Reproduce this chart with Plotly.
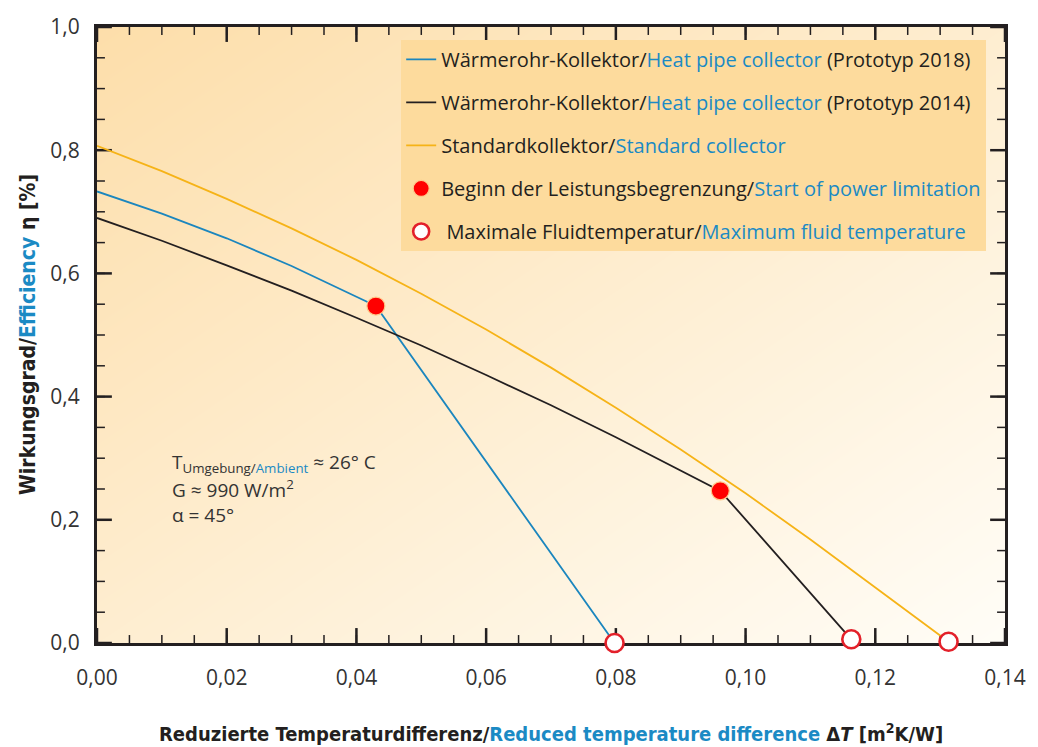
import plotly.graph_objects as go

# ---------------- data ----------------
blue_x = [0.000, 0.010, 0.020, 0.030, 0.040, 0.0430, 0.0798]
blue_y = [0.733, 0.697, 0.657, 0.612, 0.562, 0.547, 0.000]

black_x = [0.000, 0.010, 0.020, 0.030, 0.040, 0.050, 0.060, 0.070, 0.080, 0.090, 0.0961, 0.1163]
black_y = [0.690, 0.653, 0.613, 0.572, 0.528, 0.483, 0.435, 0.386, 0.334, 0.280, 0.247, 0.006]

std_x = [0.000, 0.010, 0.020, 0.030, 0.040, 0.050, 0.060, 0.070, 0.080, 0.090, 0.100, 0.110, 0.120, 0.1313]
std_y = [0.807, 0.766, 0.721, 0.673, 0.622, 0.567, 0.509, 0.447, 0.382, 0.314, 0.243, 0.168, 0.090, 0.002]

limit_x = [0.0430, 0.0961]
limit_y = [0.547, 0.247]

maxfluid_x = [0.0798, 0.1163, 0.1313]
maxfluid_y = [0.000, 0.006, 0.002]

names = [
    'Wärmerohr-Kollektor/<span style="color:#1B8AC4">Heat pipe collector</span> (Prototyp 2018)',
    'Wärmerohr-Kollektor/<span style="color:#1B8AC4">Heat pipe collector</span> (Prototyp 2014)',
    'Standardkollektor/<span style="color:#1B8AC4">Standard collector</span>',
    'Beginn der Leistungsbegrenzung/<span style="color:#1B8AC4">Start of power limitation</span>',
    ' Maximale Fluidtemperatur/<span style="color:#1B8AC4">Maximum fluid temperature</span>',
]

X_RANGE = [0, 0.14]
Y_RANGE = [0, 1]
X_MAJOR, X_MINOR = 0.02, 0.005
Y_MAJOR, Y_MINOR = 0.2, 0.05

# ---------------- style ----------------
BLUE = "#1B86BE"
BLACK = "#231F20"
ORANGE = "#F6B317"
TXTBLUE = "#1B8AC4"
FONT = "Open Sans, Lato, sans-serif"
NARROW = "Liberation Sans Narrow, DejaVu Sans Condensed, Arial Narrow, sans-serif"
W, H = 1038, 747
M = dict(l=97, r=25, t=24, b=104)
PW = W - M["l"] - M["r"]
PH = H - M["t"] - M["b"]
XU = (X_RANGE[1] - X_RANGE[0]) / PW   # data units per pixel, x
YU = (Y_RANGE[1] - Y_RANGE[0]) / PH   # data units per pixel, y


def steps(lo, hi, step):
    n = int(round((hi - lo) / step))
    return [round(lo + i * step, 6) for i in range(n + 1)]


fig = go.Figure()

# diagonal background gradient (top-left orange -> bottom-right near white)
fig.add_trace(go.Heatmap(x=X_RANGE, y=Y_RANGE, z=[[0.5, 1.0], [0.0, 0.5]],
                         zmin=0, zmax=1, zsmooth="best", showscale=False,
                         colorscale=[[0, "#FDDEAA"], [1, "#FFFDF7"]],
                         hoverinfo="skip", showlegend=False))

# inside tick marks on all four sides, drawn as line segments from the tick steps
for step, ln, lw in ((X_MINOR, 8, 1.5), (X_MAJOR, 15, 2.5)):
    tx, ty = [], []
    for v in steps(X_RANGE[0], X_RANGE[1], step):
        tx += [v, v, None, v, v, None]
        ty += [Y_RANGE[0], Y_RANGE[0] + ln * YU, None,
               Y_RANGE[1], Y_RANGE[1] - ln * YU, None]
    fig.add_trace(go.Scatter(x=tx, y=ty, mode="lines", showlegend=False,
                             hoverinfo="skip", cliponaxis=False,
                             line=dict(color=BLACK, width=lw)))
for step, ln, lw in ((Y_MINOR, 8, 1.5), (Y_MAJOR, 15, 2.5)):
    tx, ty = [], []
    for v in steps(Y_RANGE[0], Y_RANGE[1], step):
        tx += [X_RANGE[0], X_RANGE[0] + ln * XU, None,
               X_RANGE[1], X_RANGE[1] - ln * XU, None]
        ty += [v, v, None, v, v, None]
    fig.add_trace(go.Scatter(x=tx, y=ty, mode="lines", showlegend=False,
                             hoverinfo="skip", cliponaxis=False,
                             line=dict(color=BLACK, width=lw)))

fig.add_trace(go.Scatter(x=blue_x, y=blue_y, mode="lines", name=names[0],
                         line=dict(color=BLUE, width=1.8), legendgroup="a"))
fig.add_trace(go.Scatter(x=black_x, y=black_y, mode="lines", name=names[1],
                         line=dict(color=BLACK, width=1.8), legendgroup="b"))
fig.add_trace(go.Scatter(x=std_x, y=std_y, mode="lines", name=names[2],
                         line=dict(color=ORANGE, width=1.8), legendgroup="c"))
fig.add_trace(go.Scatter(x=limit_x, y=limit_y, mode="markers", name=names[3],
                         marker=dict(color="#FF0000", size=18,
                                     line=dict(color="#FFC98A", width=1.2)),
                         legendgroup="d", cliponaxis=False))
fig.add_trace(go.Scatter(x=maxfluid_x, y=maxfluid_y, mode="markers", name=names[4],
                         marker=dict(color="#FFFFFF", size=18,
                                     line=dict(color="#E3202A", width=2.6)),
                         legendgroup="e", cliponaxis=False))

main_axis = dict(
    ticks="", showline=True, linewidth=3, linecolor=BLACK, mirror=True,
    showgrid=False, zeroline=False, layer="below traces",
    tickfont=dict(family=FONT, size=21, color="#333333"),
)
fig.update_layout(
    xaxis=dict(range=X_RANGE, tick0=0, dtick=X_MAJOR, tickformat=".2f",
               ticklabelstandoff=14, **main_axis),
    yaxis=dict(range=Y_RANGE, tick0=0, dtick=Y_MAJOR, tickformat=".1f",
               ticklabelstandoff=10, **main_axis),
)

annotations = [
    dict(text='<b>Wirkungsgrad/<span style="color:%s">Efficiency</span> η [%%]</b>' % TXTBLUE,
         xref="paper", yref="paper", x=0, y=0.5, xshift=-69, textangle=-90,
         xanchor="center", yanchor="middle", showarrow=False,
         font=dict(family=NARROW, size=21, color=BLACK)),
    dict(text='<b>Reduzierte Temperaturdifferenz/<span style="color:%s">Reduced temperature difference</span> Δ<i>T</i> [m<sup>2</sup>K/W]</b>' % TXTBLUE,
         xref="paper", yref="paper", x=0.5, y=0, yshift=-90,
         xanchor="center", yanchor="middle", showarrow=False,
         font=dict(family=NARROW, size=20, color=BLACK)),
    dict(text='T<sub>Umgebung/<span style="color:%s">Ambient</span></sub> ≈ 26° C' % TXTBLUE,
         xref="x", yref="y", x=0.0112, y=0.292, xanchor="left", yanchor="middle",
         showarrow=False, font=dict(family=FONT, size=19, color="#333333")),
    dict(text='G ≈ 990 W/m<sup>2</sup>',
         xref="x", yref="y", x=0.0112, y=0.250, xanchor="left", yanchor="middle",
         showarrow=False, font=dict(family=FONT, size=19, color="#333333")),
    dict(text='α = 45°',
         xref="x", yref="y", x=0.0112, y=0.208, xanchor="left", yanchor="middle",
         showarrow=False, font=dict(family=FONT, size=19, color="#333333")),
]

fig.update_layout(
    width=W, height=H, autosize=False,
    margin=M,
    paper_bgcolor="#FFFFFF", plot_bgcolor="#FFF1DA",
    separators=", ",
    font=dict(family=FONT, color=BLACK),
    showlegend=True,
    legend=dict(x=0.335, y=0.979, xanchor="left", yanchor="top",
                bgcolor="#FDDB9D", borderwidth=0,
                font=dict(family=FONT, size=20, color=BLACK),
                tracegroupgap=14, itemwidth=30, itemsizing="trace"),
    annotations=annotations,
)

fig.write_html("out.html")
